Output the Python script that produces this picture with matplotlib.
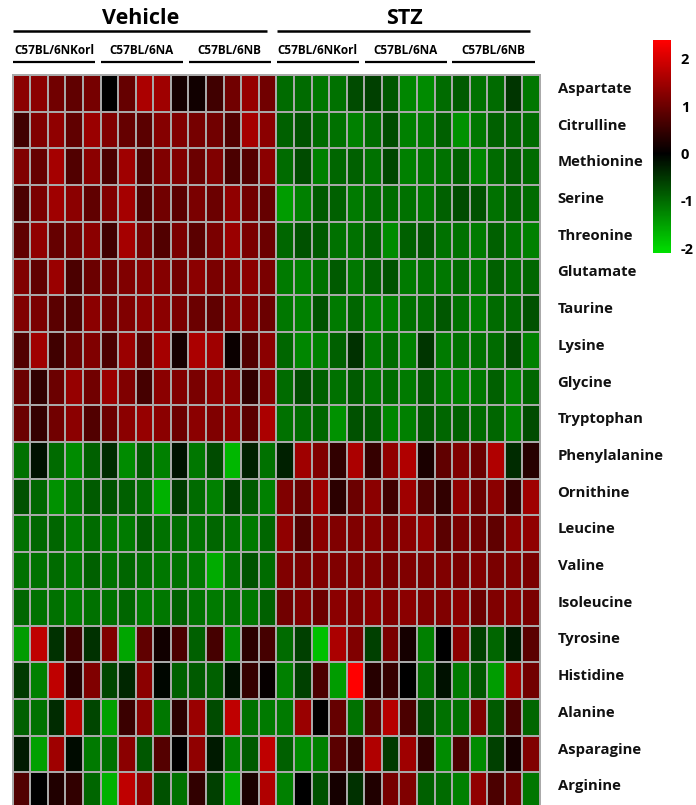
import matplotlib
matplotlib.use("Agg")
import matplotlib.pyplot as plt
import numpy as np
from matplotlib.colors import LinearSegmentedColormap

plt.rcParams["font.family"] = ["Open Sans", "DejaVu Sans"]
plt.rcParams["font.weight"] = "bold"
plt.rcParams["axes.unicode_minus"] = False

metabolites = [
    "Aspartate", "Citrulline", "Methionine", "Serine", "Threonine",
    "Glutamate", "Taurine", "Lysine", "Glycine", "Tryptophan",
    "Phenylalanine", "Ornithine", "Leucine", "Valine", "Isoleucine",
    "Tyrosine", "Histidine", "Alanine", "Asparagine", "Arginine",
]
treatments = ["Vehicle", "STZ"]
strains = ["C57BL/6NKorl", "C57BL/6NA", "C57BL/6NB"]
mice_per_strain = 5

# z-scores, one row per metabolite, 15 mice per treatment (5 per strain)
vehicle_z = [
    [1.3, 1.3, 1.05, 0.9, 1.1, 0.0, 0.95, 1.6, 1.5, 0.2, 0.15, 0.6, 1.05, 1.4, 1.05],
    [0.6, 1.2, 1.35, 0.9, 1.45, 1.2, 0.95, 0.85, 1.25, 1.2, 1.1, 1.05, 0.75, 1.55, 1.3],
    [1.2, 0.95, 1.55, 0.75, 1.3, 0.7, 1.5, 0.75, 1.2, 1.2, 1.0, 1.2, 0.7, 0.8, 1.3],
    [0.7, 1.15, 1.5, 1.3, 0.9, 1.2, 1.55, 0.75, 1.05, 0.85, 1.15, 1.0, 1.35, 1.05, 0.95],
    [0.9, 1.35, 0.95, 1.05, 1.3, 0.6, 1.55, 1.1, 0.75, 1.15, 0.85, 1.15, 1.45, 1.15, 1.0],
    [1.2, 0.9, 1.45, 0.7, 1.0, 1.0, 1.2, 1.25, 1.25, 1.05, 1.3, 1.15, 1.25, 1.3, 1.15],
    [1.2, 1.15, 0.85, 0.75, 1.3, 1.05, 1.2, 1.3, 1.3, 1.15, 1.0, 0.9, 1.25, 1.2, 1.0],
    [0.75, 1.5, 0.6, 1.0, 1.2, 0.7, 1.45, 0.85, 1.55, 0.2, 1.6, 1.5, 0.1, 0.75, 1.3],
    [1.0, 0.45, 1.0, 1.4, 1.05, 1.45, 1.2, 0.65, 1.3, 1.2, 1.15, 1.3, 1.3, 0.45, 1.3],
    [1.0, 0.5, 1.05, 1.3, 0.75, 1.0, 1.3, 1.4, 1.3, 1.0, 1.3, 1.2, 1.35, 0.85, 1.6],
    [-1.05, -0.15, -1.0, -1.3, -0.9, -0.4, -1.3, -0.85, -1.2, -0.15, -1.1, -0.7, -1.7, -0.3, -1.05],
    [-0.75, -0.95, -1.35, -1.1, -0.85, -0.75, -0.9, -1.0, -1.65, -0.55, -1.0, -1.2, -0.6, -0.85, -1.2],
    [-1.05, -0.95, -0.95, -1.15, -1.0, -1.1, -1.15, -0.85, -1.05, -1.0, -1.05, -0.95, -1.05, -1.15, -0.95],
    [-1.05, -1.05, -1.0, -1.1, -0.9, -1.05, -0.95, -1.0, -1.1, -1.05, -1.1, -1.6, -1.05, -0.75, -1.0],
    [-0.95, -1.05, -1.05, -1.15, -1.05, -1.05, -0.95, -1.15, -1.1, -0.9, -1.05, -1.15, -1.05, -1.1, -0.9],
    [-1.45, 1.8, -0.45, 0.6, -0.45, 1.2, -1.55, 0.9, 0.15, 0.7, -0.9, 0.65, -1.3, 0.4, 0.65],
    [-0.55, -1.2, 1.8, 0.35, 1.2, -0.65, -0.35, 1.3, -0.05, -0.9, -0.85, -0.9, -0.15, 0.5, 0.05],
    [-0.9, -1.05, -0.4, 1.7, -0.65, -1.5, 0.55, 1.3, -1.1, 0.4, 1.45, -0.7, 1.8, -1.05, -1.15],
    [-0.25, -1.5, 1.5, -0.1, -1.15, -1.05, 1.3, -0.8, 0.8, 0.0, 1.35, -0.25, -1.2, -0.85, 1.8],
    [0.75, 0.0, 0.3, 0.45, -0.95, -1.65, 1.8, 1.35, -0.75, -1.05, 0.45, -0.6, -1.6, 0.25, 1.65],
]
stz_z = [
    [-1.0, -1.0, -1.1, -1.05, -0.7, -0.6, -0.8, -1.25, -1.3, -1.0, -0.85, -1.05, -1.0, -0.5, -1.1],
    [-0.9, -0.75, -1.0, -1.05, -1.2, -1.0, -0.7, -1.2, -1.15, -0.9, -1.35, -1.1, -0.9, -0.9, -1.0],
    [-1.0, -0.7, -1.2, -0.95, -0.9, -1.05, -0.65, -1.2, -1.1, -1.05, -0.9, -1.25, -1.0, -0.85, -1.0],
    [-1.45, -1.2, -0.85, -0.9, -1.15, -1.0, -1.0, -1.05, -1.1, -0.9, -0.7, -0.75, -1.05, -0.9, -1.0],
    [-0.95, -0.75, -0.85, -1.05, -1.05, -0.9, -1.3, -0.9, -0.8, -1.05, -1.05, -1.15, -0.9, -1.05, -1.2],
    [-1.15, -1.2, -1.05, -0.85, -1.1, -0.9, -0.75, -1.15, -1.05, -1.1, -1.0, -1.15, -0.9, -1.0, -0.95],
    [-1.1, -1.2, -0.75, -1.15, -0.95, -1.2, -1.2, -1.05, -1.0, -0.8, -1.05, -1.2, -1.0, -0.95, -0.75],
    [-0.95, -1.25, -1.2, -0.9, -0.45, -1.1, -1.0, -1.2, -0.5, -1.15, -1.05, -1.05, -1.0, -0.7, -1.2],
    [-1.0, -0.7, -0.9, -1.05, -0.85, -1.05, -1.0, -1.15, -0.85, -1.15, -1.2, -1.1, -0.9, -1.2, -0.95],
    [-1.05, -1.0, -0.95, -1.35, -0.75, -0.85, -1.25, -1.2, -0.85, -0.95, -0.9, -1.0, -0.95, -1.2, -0.7],
    [-0.3, 1.5, 1.2, 0.45, 1.6, 0.5, 1.35, 1.65, 0.25, 0.9, 1.2, 1.0, 1.65, -0.4, 0.35],
    [1.2, 1.0, 1.5, 0.4, 1.0, 1.3, 0.6, 1.5, 0.75, 0.45, 1.35, 1.0, 1.3, 0.5, 1.5],
    [1.35, 0.8, 1.3, 1.2, 1.2, 1.25, 1.15, 1.3, 1.35, 0.85, 1.15, 1.05, 0.9, 1.3, 1.35],
    [1.2, 1.15, 1.2, 1.2, 1.2, 1.2, 1.1, 1.2, 1.15, 1.2, 1.15, 1.2, 1.15, 1.2, 1.15],
    [1.05, 1.2, 1.0, 1.3, 1.2, 1.3, 1.2, 1.3, 1.2, 1.2, 1.3, 1.0, 1.2, 1.25, 1.15],
    [-1.0, -0.6, -1.8, 1.6, 1.2, -0.6, 1.15, 0.2, -1.2, 0.0, 1.3, -0.6, -0.95, -0.25, 0.85],
    [-1.2, -0.6, 0.7, -1.45, 2.4, 0.35, 0.5, 0.0, -1.05, -0.15, -1.15, -0.8, -1.45, 1.5, 1.05],
    [-1.15, 1.45, 0.0, 0.95, -1.05, 0.85, 1.7, 0.7, -0.7, -1.05, -1.05, 1.2, -0.85, 0.7, -0.95],
    [-0.9, -1.3, -1.2, 0.85, 0.5, 1.65, -0.55, 1.5, 0.45, -1.3, 0.7, -1.3, -0.6, 0.2, 1.2],
    [-1.2, 0.0, -0.75, 0.2, -0.45, 0.3, 1.1, 1.2, -0.9, -1.0, -1.2, 1.35, 0.7, 1.05, -1.1],
]
cbar_ticks = [2, 1, 0, -1, -2]

z = np.hstack([np.array(vehicle_z), np.array(stz_z)])
n_rows, n_cols = z.shape

vmin, vmax = -2.1, 2.4
zero_pos = (0 - vmin) / (vmax - vmin)
cmap = LinearSegmentedColormap.from_list(
    "green_black_red",
    [(0.0, "#00e000"), (zero_pos, "#000000"), (1.0, "#ff0000")],
)

fig = plt.figure(figsize=(6.96, 8.05), dpi=100)
ax = fig.add_axes([0.0183, -0.005, 0.7576, 0.9118])

mesh = ax.pcolormesh(
    np.arange(n_cols + 1), np.arange(n_rows + 1), z,
    cmap=cmap, vmin=vmin, vmax=vmax,
    edgecolors="#a8a8a8", linewidth=1.4,
)
ax.set_xlim(0, n_cols)
ax.set_ylim(n_rows, 0)
ax.set_xticks([])
ax.set_yticks([])
for side in ax.spines.values():
    side.set_edgecolor("#a8a8a8")
    side.set_linewidth(1.4)

# metabolite names to the right of the rows
for i, name in enumerate(metabolites):
    ax.text(n_cols + 1.0, i + 0.38, name, ha="left", va="center",
            fontsize=10.7, fontweight="bold", color="#111111", clip_on=False)

# treatment and strain headers with underlines
tr = ax.get_xaxis_transform()
n_per_treat = len(strains) * mice_per_strain
for t, treat in enumerate(treatments):
    x0 = t * n_per_treat
    ax.text(x0 + n_per_treat / 2 - 0.2, 1.077, treat, transform=tr,
            ha="center", va="center", fontsize=15.5, fontweight="bold")
    ax.plot([x0 + 0.02, x0 + n_per_treat - 0.55], [1.06, 1.06], transform=tr,
            color="black", linewidth=1.8, clip_on=False, solid_capstyle="butt")
    for s, strain in enumerate(strains):
        s0 = x0 + s * mice_per_strain
        ax.text(s0 + mice_per_strain / 2 - 0.15, 1.033, strain, transform=tr,
                ha="center", va="center", fontsize=8.5, fontweight="bold")
        ax.plot([s0 + 0.02, s0 + mice_per_strain - 0.3], [1.0177, 1.0177],
                transform=tr, color="black", linewidth=1.6, clip_on=False,
                solid_capstyle="butt")

cax = fig.add_axes([0.9382, 0.6857, 0.0259, 0.2646])
cbar = fig.colorbar(mesh, cax=cax, ticks=cbar_ticks)
cbar.outline.set_visible(False)
cax.set_yticklabels([str(t) for t in cbar_ticks])
cax.tick_params(length=0, pad=7, labelsize=10.5)
for lbl in cax.get_yticklabels():
    lbl.set_fontweight("bold")

fig.savefig("out.png", dpi=100)
